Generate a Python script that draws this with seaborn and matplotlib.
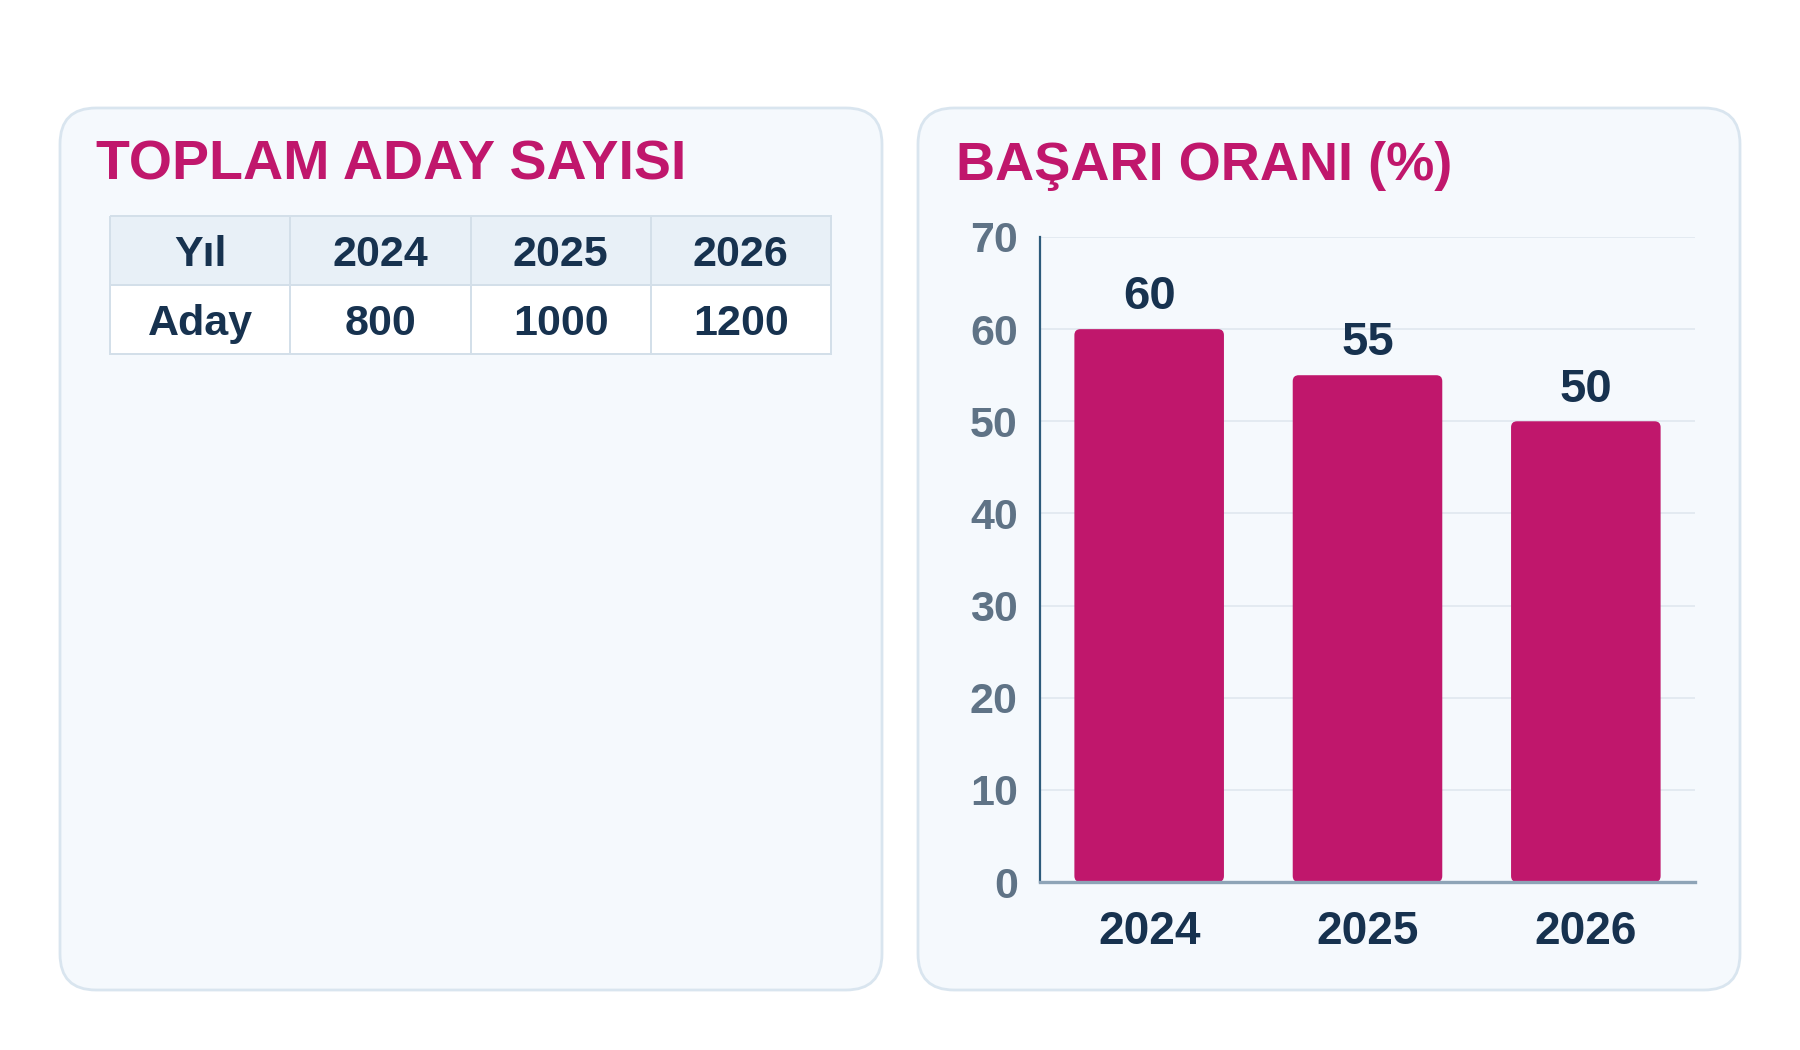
import numpy as np
import pandas as pd
import matplotlib
matplotlib.use("Agg")
import matplotlib.pyplot as plt
import seaborn as sns
from matplotlib.colors import ListedColormap
from matplotlib.patches import FancyBboxPatch

# data
years = ["2024", "2025", "2026"]
candidates = [800, 1000, 1200]
success_rate = [60, 55, 50]
table_row_labels = ["Yıl", "Aday"]

MAGENTA = "#c0176c"
NAVY = "#17324f"
GREY = "#5f7386"
CARD_FILL = "#f5f9fd"
CARD_EDGE = "#d9e5ef"

sns.set_theme(style="white")
plt.rcParams["font.family"] = ["Liberation Sans", "DejaVu Sans"]
plt.rcParams["font.weight"] = "bold"

fig = plt.figure(figsize=(18, 10.5), dpi=100)
fig.patch.set_facecolor("white")

# background axes in pixel units for the cards and titles
bg = fig.add_axes([0, 0, 1, 1])
bg.set_xlim(0, 1800)
bg.set_ylim(1050, 0)
bg.axis("off")
for x0 in (60, 918):
    bg.add_patch(FancyBboxPatch((x0, 108), 822, 882,
                                boxstyle="round,pad=0,rounding_size=36",
                                facecolor=CARD_FILL, edgecolor=CARD_EDGE, linewidth=2))
bg.text(96, 166, "TOPLAM ADAY SAYISI", color=MAGENTA, fontsize=40,
        fontweight="bold", va="center", ha="left")
bg.text(956, 166, "BAŞARI ORANI (%)", color=MAGENTA, fontsize=39,
        fontweight="bold", va="center", ha="left")

# left: small table drawn as a heatmap
tab = fig.add_axes([110 / 1800, 1 - 354 / 1050, 721 / 1800, 138 / 1050])
cells = pd.DataFrame([[1] * 4, [0] * 4])
labels = np.array([[table_row_labels[0]] + years,
                   [table_row_labels[1]] + [str(c) for c in candidates]])
sns.heatmap(cells, ax=tab, cmap=ListedColormap(["#ffffff", "#e8f0f7"]),
            cbar=False, annot=labels, fmt="", linewidths=1.1, linecolor="#d3dfe9",
            annot_kws={"fontsize": 31, "fontweight": "bold", "color": NAVY})
tab.collections[0].set_clip_on(False)
for t in tab.texts:
    tx, ty = t.get_position()
    t.set_position((tx, ty + 0.06))
tab.set_xticks([])
tab.set_yticks([])

# right: bar chart
ax = fig.add_axes([1040 / 1800, 1 - 882 / 1050, 655 / 1800, 645 / 1050])
ax.set_facecolor(CARD_FILL)
df = pd.DataFrame({"year": years, "rate": success_rate})
sns.barplot(data=df, x="year", y="rate", color=MAGENTA, width=0.685,
            saturation=1, ax=ax, zorder=3)
ax.set_ylim(0, 70)
ax.set_xlim(-0.5, 2.5)
ax.set_yticks(range(0, 71, 10))
ax.yaxis.grid(True, color="#e0e8ef", linewidth=1.2, zorder=0)
ax.xaxis.grid(False)
ax.set_xlabel("")
ax.set_ylabel("")
ax.tick_params(axis="y", length=0, pad=16, labelsize=31, labelcolor=GREY)
ax.tick_params(axis="x", length=0, pad=20, labelsize=33, labelcolor=NAVY)
for lab in ax.get_xticklabels() + ax.get_yticklabels():
    lab.set_fontweight("bold")
for s in ("top", "right"):
    ax.spines[s].set_visible(False)
ax.spines["left"].set_color("#2d5b7b")
ax.spines["left"].set_linewidth(1.6)
ax.spines["bottom"].set_color("#8ea4b7")
ax.spines["bottom"].set_linewidth(2.4)
ax.spines["bottom"].set_zorder(5)

# rounded bar corners
fig.canvas.draw()
px_x = ax.transData.transform((1, 0))[0] - ax.transData.transform((0, 0))[0]
px_y = abs(ax.transData.transform((0, 0))[1] - ax.transData.transform((0, 1))[1])
r_px = 6
for bar in list(ax.patches):
    x, y = bar.get_x(), bar.get_y()
    w, h = bar.get_width(), bar.get_height()
    bar.set_visible(False)
    ax.add_patch(FancyBboxPatch((x, y), w, h,
                                boxstyle=f"round,pad=0,rounding_size={r_px / px_x}",
                                mutation_aspect=px_x / px_y,
                                facecolor=MAGENTA, edgecolor="none", zorder=3))
ax.bar_label(ax.containers[0], labels=[str(v) for v in success_rate], padding=7,
             fontsize=34, fontweight="bold", color=NAVY)

fig.savefig("out.png", dpi=100, facecolor="white")
